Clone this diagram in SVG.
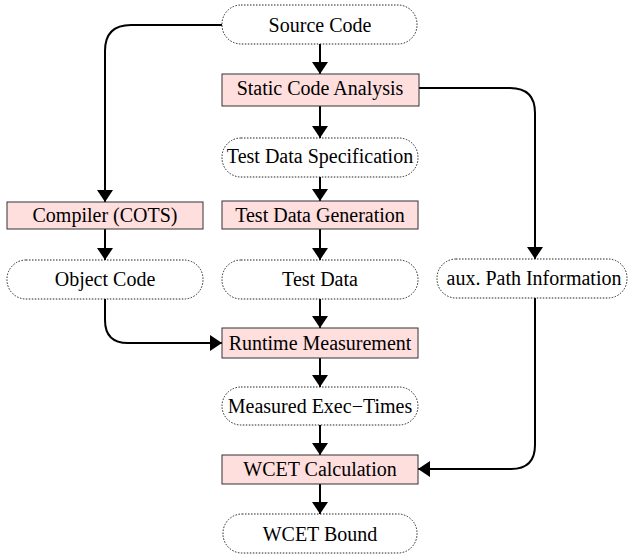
<svg xmlns="http://www.w3.org/2000/svg" width="629" height="557" viewBox="0 0 629 557">
<defs>
<style>
.proc rect{fill:#ffdede;stroke:#333;stroke-width:1}
.data rect{fill:#fff;stroke:#222;stroke-width:1;stroke-dasharray:1.5 1.5}
text{font-family:"Liberation Serif","Times New Roman",serif;font-size:20px;fill:#000;text-anchor:middle}
.conn path{fill:none;stroke:#000;stroke-width:2;marker-end:url(#ah)}
</style>
<marker id="ah" markerUnits="userSpaceOnUse" markerWidth="16" markerHeight="16" viewBox="0 0 16 16" refX="12" refY="8" orient="auto">
<path d="M0,0 L12,8 L0,16 Z" fill="#000"/>
</marker>
</defs>
<rect width="629" height="557" fill="#fff"/>
<g class="conn">
<path d="M320,44 V74"/>
<path d="M320,106 V138"/>
<path d="M320,177 V201"/>
<path d="M320,229 V260"/>
<path d="M320,299 V328"/>
<path d="M320,358 V387"/>
<path d="M320,425 V455"/>
<path d="M320,484 V514"/>
<path d="M105,229 V260"/>
<path d="M222,25 H131 Q105,25 105,51 V202"/>
<path d="M105,299 V320 Q105,343 128,343 H222"/>
<path d="M419,88 H510 Q535,88 535,113 V259"/>
<path d="M535,298 V445 Q535,469 511,469 H418"/>
</g>
<g id="source-code" class="data"><rect x="222" y="5" width="195" height="39" rx="19"/><text x="320" y="32">Source Code</text></g>
<g id="static-code-analysis" class="proc"><rect x="222" y="74" width="197" height="32"/><text x="320" y="95">Static Code Analysis</text></g>
<g id="test-data-spec" class="data"><rect x="222" y="138" width="196" height="39" rx="19"/><text x="320" y="163">Test Data Specification</text></g>
<g id="test-data-gen" class="proc"><rect x="222" y="201" width="196" height="28"/><text x="320" y="222">Test Data Generation</text></g>
<g id="test-data" class="data"><rect x="222" y="260" width="196" height="39" rx="19"/><text x="320" y="286">Test Data</text></g>
<g id="compiler" class="proc"><rect x="7" y="202" width="196" height="27"/><text x="105" y="222">Compiler (COTS)</text></g>
<g id="object-code" class="data"><rect x="7" y="260" width="196" height="39" rx="19"/><text x="105" y="286">Object Code</text></g>
<g id="aux-path" class="data"><rect x="437" y="259" width="190" height="39" rx="19"/><text x="534" y="285">aux. Path Information</text></g>
<g id="runtime-measurement" class="proc"><rect x="222" y="328" width="196" height="30"/><text x="320" y="350">Runtime Measurement</text></g>
<g id="measured-exec" class="data"><rect x="222" y="387" width="196" height="38" rx="19"/><text x="320" y="413">Measured Exec−Times</text></g>
<g id="wcet-calc" class="proc"><rect x="222" y="455" width="196" height="29"/><text x="320" y="476">WCET Calculation</text></g>
<g id="wcet-bound" class="data"><rect x="223" y="514" width="194" height="39" rx="19"/><text x="320" y="541">WCET Bound</text></g>
</svg>
